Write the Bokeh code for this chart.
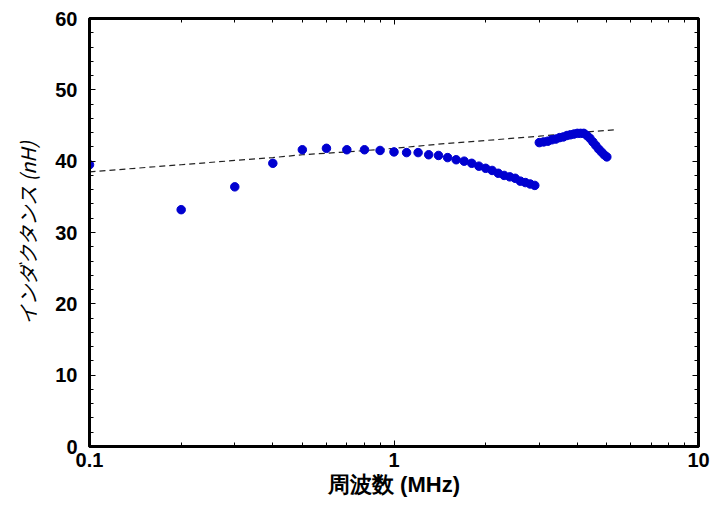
from bokeh.plotting import figure
from bokeh.models import (LogAxis, LinearAxis, SingleIntervalTicker, FixedTicker,
                          BasicTickFormatter, CustomJSTickFormatter, Range1d)
from bokeh.embed import file_html
from bokeh.resources import INLINE

# measured inductance, first sweep (MHz, nH)
freq_a = [0.1, 0.2, 0.3, 0.4, 0.5, 0.6, 0.7, 0.8, 0.9, 1.0,
          1.1, 1.2, 1.3, 1.4, 1.5, 1.6, 1.7, 1.8, 1.9, 2.0,
          2.1, 2.2, 2.3, 2.4, 2.5, 2.6, 2.7, 2.8, 2.9]
ind_a = [39.5, 33.2, 36.4, 39.7, 41.6, 41.8, 41.6, 41.6, 41.5, 41.3,
         41.2, 41.2, 40.9, 40.8, 40.5, 40.2, 40.0, 39.7, 39.3, 39.0,
         38.7, 38.3, 38.0, 37.8, 37.6, 37.2, 37.0, 36.8, 36.6]

# measured inductance, second sweep (MHz, nH)
freq_b = [3.0, 3.1, 3.2, 3.3, 3.4, 3.5, 3.6, 3.7, 3.8, 3.9, 4.0,
          4.1, 4.2, 4.3, 4.4, 4.5, 4.6, 4.7, 4.8, 4.9, 5.0]
ind_b = [42.6, 42.7, 42.8, 43.0, 43.1, 43.3, 43.4, 43.6, 43.7, 43.8, 43.9,
         43.9, 43.9, 43.6, 43.2, 42.7, 42.2, 41.7, 41.3, 40.9, 40.6]

# reference (dashed) curve
freq_ref = [0.1, 0.2, 0.3, 0.4, 0.5, 0.7, 1.0, 1.5, 2.0, 3.0, 4.0, 5.3]
ind_ref = [38.5, 39.5, 40.1, 40.5, 40.9, 41.3, 41.8, 42.5, 42.9, 43.5, 44.0, 44.4]

x_major = [0.1, 1, 10]
x_minor = [0.2, 0.3, 0.4, 0.5, 0.6, 0.7, 0.8, 0.9,
           2, 3, 4, 5, 6, 7, 8, 9]

TICK_FONT = "Liberation Sans"

p = figure(width=716, height=505, x_axis_type="log",
           x_range=Range1d(0.1, 10), y_range=Range1d(0, 60),
           output_backend="svg", toolbar_location=None,
           min_border_left=89, min_border_right=18,
           min_border_top=18, min_border_bottom=59)
p.background_fill_color = "white"
p.border_fill_color = "white"
p.outline_line_color = "black"
p.outline_line_width = 3
p.xgrid.visible = False
p.ygrid.visible = False

p.line(freq_ref, ind_ref, line_color="#222222", line_width=1.2, line_dash="6 4")
p.scatter(freq_a, ind_a, size=8.5, fill_color="#0000d0", line_color="#0000d0")
p.scatter(freq_b, ind_b, size=8.5, fill_color="#0000d0", line_color="#0000d0")

xt = FixedTicker(ticks=x_major, minor_ticks=x_minor)
yt = SingleIntervalTicker(interval=10, num_minor_ticks=5)
blank = CustomJSTickFormatter(code="return '';")


def style(ax, labels=True):
    ax.axis_line_color = "black"
    ax.axis_line_width = 3
    ax.major_tick_in = 6
    ax.major_tick_out = 0
    ax.minor_tick_in = 4
    ax.minor_tick_out = 0
    ax.major_tick_line_color = "black"
    ax.minor_tick_line_color = "black"
    ax.major_tick_line_width = 1
    ax.minor_tick_line_width = 1
    if labels:
        ax.major_label_text_font = TICK_FONT
        ax.major_label_text_font_style = "bold"
        ax.major_label_text_font_size = "20px"
        ax.major_label_text_color = "black"
    else:
        ax.formatter = blank
        ax.major_label_standoff = 0


xa = p.xaxis[0]
xa.ticker = xt
xa.formatter = BasicTickFormatter()
style(xa)
xa.major_label_standoff = 6
xa.axis_label = "周波数 (MHz)"
xa.axis_label_text_font = TICK_FONT
xa.axis_label_text_font_style = "bold"
xa.axis_label_text_font_size = "22px"
xa.axis_label_text_color = "black"
xa.axis_label_standoff = 2

ya = p.yaxis[0]
ya.ticker = yt
style(ya)
ya.major_label_standoff = 12
ya.axis_label = "インダクタンス (nH)"
ya.axis_label_text_font = "Noto Sans CJK JP"
ya.axis_label_text_font_style = "italic"
ya.axis_label_text_font_size = "20px"
ya.axis_label_text_color = "black"
ya.axis_label_standoff = 10

top = LogAxis(ticker=xt)
style(top, labels=False)
p.add_layout(top, "above")

right = LinearAxis(ticker=yt)
style(right, labels=False)
p.add_layout(right, "right")

open("out.html", "w").write(file_html(p, INLINE))
